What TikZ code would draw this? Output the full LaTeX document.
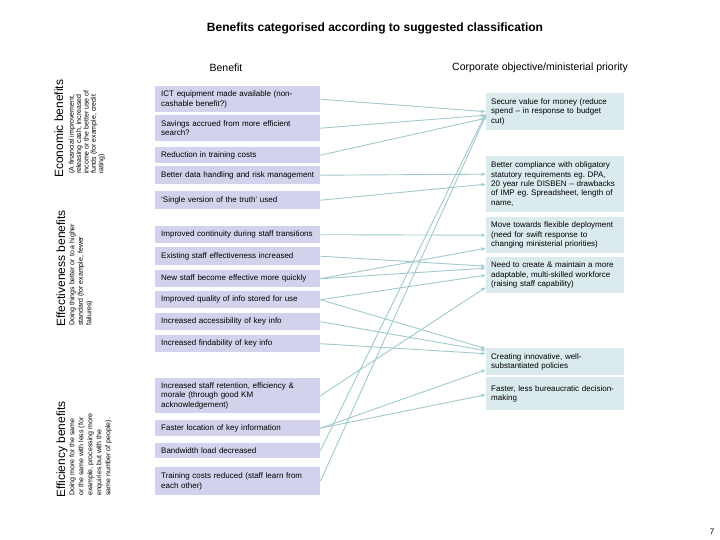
\documentclass[tikz,border=0pt]{standalone}
\usepackage{fontspec}
\setmainfont{Liberation Sans}
\usetikzlibrary{arrows.meta}
\frenchspacing
\definecolor{lboxc}{RGB}{210,210,236}
\definecolor{rboxc}{RGB}{218,234,237}
\definecolor{linkc}{RGB}{160,202,206}
\tikzset{
  lb/.style={fill=lboxc, draw=none, text width=153pt, align=left, inner xsep=6pt, inner ysep=0pt,
    font=\fontsize{8}{9.5}\selectfont, anchor=north west},
  rb/.style={fill=rboxc, draw=none, text width=128pt, align=left, inner xsep=5pt, inner ysep=0pt,
    font=\fontsize{8}{9.3}\selectfont, anchor=north west},
  head/.style={rotate=90, anchor=base west, inner sep=0pt, font=\fontsize{12}{14}\selectfont},
  sub/.style={rotate=90, anchor=north west, inner sep=0pt, align=left},
  link/.style={draw=linkc, line width=0.9pt, -{Stealth[length=4.5pt,width=3.5pt]}, shorten >=0.5pt}
}
\begin{document}
\begin{tikzpicture}[x=1pt,y=-1pt]
\useasboundingbox (0,0) rectangle (720,540);
\fill[white] (0,0) rectangle (720,540);

\node[font=\bfseries\fontsize{12}{14}\selectfont] (title) at (375,28) {Benefits categorised according to suggested classification};
\node[font=\fontsize{10.5}{12}\selectfont] (hben) at (226,68) {Benefit};
\node[font=\fontsize{10.5}{12}\selectfont] (hcorp) at (540,68) {Corporate objective/ministerial priority};

% side labels
\node[head] (econ) at (63,178) {Economic benefits};
\node[sub, font=\fontsize{7}{7.4}\selectfont] (econsub) at (68.5,174) {(A financial improvement,\\releasing cash, increased\\income or the better use of\\funds (for example, credit\\rating)};
\node[head] (effect) at (65,327) {Effectiveness benefits};
\node[sub, font=\fontsize{7}{8.5}\selectfont] (effectsub) at (69,326) {Doing things better or to a higher\\standard (for example, fewer\\failures)};
\node[head] (effic) at (65,498) {Efficiency benefits};
\node[sub, font=\fontsize{7}{9}\selectfont] (efficsub) at (69,496) {Doing more for the same\\or the same with less (for\\example, processing more\\enquiries but with the\\same number of people).};

% left boxes
\node[lb, minimum height=26pt] (L1) at (155,86) {ICT equipment made available (non-\\cashable benefit?)};
\node[lb, minimum height=26pt] (L2) at (155,115) {Savings accrued from more efficient\\search?};
\node[lb, minimum height=16pt] (L3) at (155,147) {Reduction in training costs};
\node[lb, minimum height=18pt] (L4) at (155,166) {Better data handling and risk management};
\node[lb, minimum height=18pt] (L5) at (155,191) {`Single version of the truth' used};
\node[lb, minimum height=17pt] (L6) at (155,226) {Improved continuity during staff transitions};
\node[lb, minimum height=18pt] (L7) at (155,247) {Existing staff effectiveness increased};
\node[lb, minimum height=17pt] (L8) at (155,270) {New staff become effective more quickly};
\node[lb, minimum height=17pt] (L9) at (155,291) {Improved quality of info stored for use};
\node[lb, minimum height=17pt] (L10) at (155,313) {Increased accessibility of key info};
\node[lb, minimum height=17pt] (L11) at (155,335) {Increased findability of key info};
\node[lb, minimum height=35pt] (L12) at (155,378) {Increased staff retention, efficiency \&\\morale (through good KM\\acknowledgement)};
\node[lb, minimum height=16pt] (L13) at (155,420) {Faster location of key information};
\node[lb, minimum height=15pt] (L14) at (155,443) {Bandwidth load decreased};
\node[lb, minimum height=28pt] (L15) at (155,467) {Training costs reduced (staff learn from\\each other)};

% right boxes
\node[rb, minimum height=37pt] (R1) at (486,93) {Secure value for money (reduce\\spend -- in response to budget\\cut)};
\node[rb, minimum height=56pt] (R2) at (486,156) {Better compliance with obligatory\\statutory requirements eg. DPA,\\20 year rule DISBEN -- drawbacks\\of IMP eg. Spreadsheet, length of\\name,};
\node[rb, minimum height=36pt] (R3) at (486,217) {Move towards flexible deployment\\(need for swift response to\\changing ministerial priorities)};
\node[rb, minimum height=36pt] (R4) at (486,257) {Need to create \& maintain a more\\adaptable, multi-skilled workforce\\(raising staff capability)};
\node[rb, minimum height=27pt] (R5) at (486,348) {Creating innovative, well-\\substantiated policies};
\node[rb, minimum height=33pt] (R6) at (486,377) {Faster, less bureaucratic decision-\\making};

% connectors
\draw[link] (L1.east) -- ([yshift=0pt]R1.west);
\draw[link] (L2.east) -- ([yshift=-3.5pt]R1.west);
\draw[link] (L3.east) -- ([yshift=-6.5pt]R1.west);
\draw[link] (L4.east) -- ([yshift=10pt]R2.west);
\draw[link] (L5.east) -- ([yshift=0pt]R2.west);
\draw[link] (L6.east) -- ([yshift=0pt]R3.west);
\draw[link] (L7.east) -- ([yshift=9pt]R4.west);
\draw[link] (L8.east) -- ([yshift=-13pt]R3.west);
\draw[link] (L8.east) -- ([yshift=7pt]R4.west);
\draw[link] (L9.east) -- ([yshift=0pt]R4.west);
\draw[link] (L9.east) -- ([yshift=13pt]R5.west);
\draw[link] (L10.east) -- ([yshift=11pt]R5.west);
\draw[link] (L11.east) -- ([yshift=8pt]R5.west);
\draw[link] (L12.east) -- ([yshift=-12pt]R4.west);
\draw[link] (L13.east) -- ([yshift=-8pt]R5.west);
\draw[link] (L13.east) -- ([yshift=-1pt]R6.west);
\draw[link] (L14.east) -- ([yshift=-1.5pt]R1.west);
\draw[link] (L15.east) -- ([yshift=-3.5pt]R1.west);

\node[font=\fontsize{8}{9}\selectfont] (pnum) at (712,532) {7};
\end{tikzpicture}
\end{document}
